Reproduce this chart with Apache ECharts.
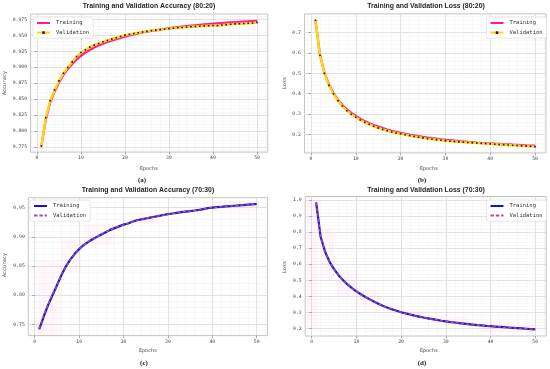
<!DOCTYPE html>
<html><head><meta charset="utf-8">
<script src="https://cdn.jsdelivr.net/npm/echarts@6/dist/echarts.min.js"></script>
<style>html,body{margin:0;padding:0;background:#fff}#c{width:550px;height:369px}</style>
</head><body><div id="c"></div>
<script>
const epochs = [1,2,3,4,5,6,7,8,9,10,11,12,13,14,15,16,17,18,19,20,21,22,23,24,25,26,27,28,29,30,31,32,33,34,35,36,37,38,39,40,41,42,43,44,45,46,47,48,49,50];

const accTrainA = [0.776,0.818,0.845,0.862,0.876,0.888,0.897,0.905,0.912,0.918,0.923,0.927,0.931,0.934,0.937,0.9395,0.9418,0.944,0.946,0.948,0.9498,0.9515,0.953,0.9545,0.9558,0.957,0.958,0.959,0.96,0.961,0.962,0.9628,0.9636,0.9644,0.9651,0.9658,0.9665,0.9671,0.9677,0.9683,0.9688,0.9693,0.9698,0.9703,0.9708,0.9712,0.9716,0.972,0.9724,0.9728];
const accValA = [0.776,0.8207,0.8474,0.8643,0.8785,0.8906,0.8994,0.9084,0.9167,0.923,0.9273,0.9315,0.9347,0.9372,0.9399,0.942,0.9441,0.9462,0.9483,0.9504,0.9515,0.9528,0.954,0.9552,0.9563,0.9573,0.9582,0.959,0.9598,0.9605,0.9612,0.9618,0.9624,0.9629,0.9634,0.9639,0.9643,0.9647,0.9651,0.9655,0.9652,0.9662,0.9666,0.9675,0.968,0.9682,0.9685,0.969,0.9693,0.9703];

const lossTrainB = [0.757,0.590,0.502,0.445,0.403,0.371,0.345,0.324,0.306,0.291,0.278,0.266,0.256,0.247,0.239,0.232,0.225,0.219,0.214,0.209,0.2045,0.2003,0.1963,0.1926,0.1892,0.186,0.183,0.1802,0.1775,0.175,0.1727,0.1705,0.1685,0.1666,0.1648,0.1632,0.1616,0.1601,0.1587,0.1574,0.1561,0.1549,0.1537,0.1525,0.1513,0.1502,0.1491,0.148,0.147,0.146];
const lossValB = [0.759,0.588,0.4997,0.441,0.399,0.366,0.340,0.317,0.2994,0.285,0.2716,0.260,0.2506,0.2408,0.2325,0.226,0.2193,0.2129,0.2081,0.204,0.1995,0.1953,0.1913,0.1876,0.1842,0.181,0.178,0.1752,0.1725,0.170,0.1682,0.1665,0.1649,0.1633,0.1618,0.1603,0.1589,0.1575,0.1562,0.155,0.1536,0.1522,0.1508,0.1494,0.1481,0.1468,0.1455,0.1442,0.143,0.1418];

const accTrainC = [0.7414,0.763,0.783,0.80,0.817,0.834,0.849,0.861,0.871,0.879,0.886,0.891,0.896,0.9,0.904,0.908,0.912,0.915,0.918,0.921,0.923,0.926,0.9285,0.930,0.9315,0.933,0.9345,0.936,0.9375,0.939,0.9401,0.9413,0.9424,0.9434,0.9443,0.9452,0.9462,0.9477,0.9492,0.9503,0.951,0.9516,0.9522,0.9528,0.9534,0.954,0.9546,0.9552,0.9558,0.9564];
const accValC = [0.7425,0.7645,0.7835,0.8015,0.8175,0.835,0.8485,0.8605,0.8715,0.8795,0.8855,0.8915,0.8965,0.9005,0.9045,0.9085,0.9115,0.9155,0.918,0.9205,0.9235,0.9255,0.928,0.9305,0.9318,0.9335,0.9342,0.9362,0.9372,0.9392,0.9398,0.9415,0.9422,0.9436,0.9441,0.9455,0.946,0.9478,0.949,0.9505,0.9508,0.9518,0.952,0.953,0.9533,0.9542,0.9545,0.9553,0.9557,0.9565];

const lossTrainD = [0.986,0.771,0.678,0.615,0.57,0.532,0.501,0.474,0.451,0.431,0.413,0.396,0.381,0.366,0.352,0.34,0.329,0.319,0.31,0.301,0.294,0.287,0.28,0.274,0.268,0.263,0.258,0.253,0.248,0.244,0.24,0.237,0.233,0.23,0.227,0.224,0.221,0.219,0.216,0.214,0.212,0.21,0.208,0.206,0.204,0.202,0.2,0.198,0.196,0.194];
const lossValD = [0.984,0.774,0.676,0.617,0.568,0.534,0.499,0.476,0.449,0.432,0.411,0.397,0.379,0.367,0.351,0.341,0.328,0.32,0.309,0.302,0.293,0.288,0.279,0.275,0.267,0.264,0.257,0.254,0.247,0.245,0.239,0.238,0.232,0.231,0.226,0.225,0.22,0.22,0.215,0.215,0.211,0.211,0.207,0.207,0.203,0.203,0.199,0.199,0.195,0.195];

const bandsC = [[0.5,6,0.732,0.86],[6,10.5,0.84,0.895],[11,18,0.885,0.922],[22.5,28,0.922,0.94],[40,50.5,0.944,0.962]];
const bandsD = [[-1,1.5,0.2,1.02],[2,5,0.52,0.82],[5.5,10,0.4,0.56],[10,15,0.33,0.44],[20,25,0.26,0.31],[27,35,0.22,0.27],[38,50,0.18,0.23]];

const xTicks = [0,10,20,30,40,50];
const yTicksA = [0.775,0.8,0.825,0.85,0.875,0.9,0.925,0.95,0.975];
const yTicksB = [0.2,0.3,0.4,0.5,0.6,0.7];
const yTicksC = [0.75,0.8,0.85,0.9,0.95];
const yTicksD = [0.2,0.3,0.4,0.5,0.6,0.7,0.8,0.9,1.0];

const titles = ['Training and Validation Accuracy (80:20)','Training and Validation Loss (80:20)','Training and Validation Accuracy (70:30)','Training and Validation Loss (70:30)'];
const yNames = ['Accuracy','Loss','Accuracy','Loss'];
const captions = ['(a)','(b)','(c)','(d)'];

const panels = [
  {left:30.6, top:14, width:237.2, height:138.1, yMin:0.7667, yMax:0.9835, yTicks:yTicksA, yMinor:0.005, dec:3,
   tr:accTrainA, va:accValA, style:'ab', bands:null, legend:{left:33, top:17},
   title:[149,6], xname:[149,169], yname:[5,83], cap:[142,180]},
  {left:304.5, top:13.9, width:241.5, height:139, yMin:0.111, yMax:0.790, yTicks:yTicksB, yMinor:0.02, dec:1,
   tr:lossTrainB, va:lossValB, style:'ab', bands:null, legend:{left:486.5, top:17},
   title:[426,6], xname:[429,169], yname:[285,83], cap:[422,180]},
  {left:28.3, top:197.7, width:239.3, height:137.9, yMin:0.7307, yMax:0.9672, yTicks:yTicksC, yMinor:0.01, dec:2,
   tr:accTrainC, va:accValC, style:'cd', bands:bandsC, legend:{left:30, top:200},
   title:[148,190], xname:[148,351], yname:[5,265], cap:[144,363]},
  {left:305.2, top:196.5, width:241, height:139.5, yMin:0.153, yMax:1.022, yTicks:yTicksD, yMinor:0.02, dec:1,
   tr:lossTrainD, va:lossValD, style:'cd', bands:bandsD, legend:{left:486.5, top:200},
   title:[426,190], xname:[429,351], yname:[285,267], cap:[422,363]}
];

const MONO = '"DejaVu Sans Mono", monospace';
const grid=[], xAxis=[], yAxis=[], series=[], legend=[], graphic=[];

function minorVals(lo, hi, step){
  const out=[]; const s=Math.ceil(lo/step);
  for(let k=s;k*step<=hi+1e-12;k++){ out.push(Math.round(k*step*1e6)/1e6); }
  return out;
}

panels.forEach((p,i)=>{
  grid.push({left:p.left, top:p.top, width:p.width, height:p.height, show:true, borderColor:'#b4b4b4', borderWidth:0.8, backgroundColor:'transparent'});
  const xMin=-1.45, xMax=52.45;
  xAxis.push({type:'value', gridIndex:i, min:xMin, max:xMax, position:'bottom',
    axisLine:{show:false},
    axisTick:{show:true, customValues:xTicks, length:2.5, lineStyle:{color:'#777', width:0.6}},
    axisLabel:{show:true, customValues:xTicks, fontSize:4.8, fontFamily:MONO, color:'#444', margin:3.5, formatter:v=>String(Math.round(v))},
    splitLine:{show:true, lineStyle:{color:'#d4d4d4', width:0.7}}});
  xAxis.push({type:'value', gridIndex:i, min:xMin, max:xMax, position:'bottom',
    axisLine:{show:false}, axisTick:{show:false, customValues:minorVals(xMin,xMax,2)}, axisLabel:{show:false},
    splitLine:{show:true, lineStyle:{color:'#e4e4e4', width:0.5, type:[1,1]}}});
  yAxis.push({type:'value', gridIndex:i, min:p.yMin, max:p.yMax,
    axisLine:{show:false},
    axisTick:{show:true, customValues:p.yTicks, length:2.5, lineStyle:{color:'#777', width:0.6}},
    axisLabel:{show:true, customValues:p.yTicks, fontSize:4.8, fontFamily:MONO, color:'#444', margin:3.5, formatter:v=>v.toFixed(p.dec)},
    splitLine:{show:true, lineStyle:{color:'#d4d4d4', width:0.7}}});
  yAxis.push({type:'value', gridIndex:i, min:p.yMin, max:p.yMax,
    axisLine:{show:false}, axisTick:{show:false, customValues:minorVals(p.yMin,p.yMax,p.yMinor)}, axisLabel:{show:false},
    splitLine:{show:true, lineStyle:{color:'#e4e4e4', width:0.5, type:[1,1]}}});

  const trName='Training#'+i, vaName='Validation#'+i;
  const trData=epochs.map((e,k)=>[e,p.tr[k]]);
  const vaData=epochs.map((e,k)=>[e,p.va[k]]);
  const trSeries={name:trName, type:'line', xAxisIndex:2*i, yAxisIndex:2*i, data:trData, showSymbol:false, symbol:'none', z:3, silent:true};
  const vaSeries={name:vaName, type:'line', xAxisIndex:2*i, yAxisIndex:2*i, data:vaData, z:4, silent:true};
  const legendData=[{name:trName, itemStyle:{opacity:0}}];
  if(p.style==='ab'){
    trSeries.lineStyle={color:'#ff1a9c', width:2.3}; trSeries.itemStyle={color:'#ff1a9c'};
    vaSeries.lineStyle={color:'#ffd614', width:2.4};
    vaSeries.itemStyle={color:'#1a1a1a'};
    vaSeries.symbol='rect'; vaSeries.symbolSize=1.6; vaSeries.showSymbol=true;
    legendData.push({name:vaName});
  } else {
    trSeries.lineStyle={color:'#1414cc', width:2.2}; trSeries.itemStyle={color:'#1414cc'};
    vaSeries.lineStyle={color:'#a4509a', width:1.4, type:[3.5,1.8]}; vaSeries.itemStyle={color:'#a4509a'};
    vaSeries.symbol='none'; vaSeries.showSymbol=false;
    legendData.push({name:vaName, itemStyle:{opacity:0}});
  }
  if(p.bands){
    trSeries.markArea={silent:true, itemStyle:{color:'rgba(255,185,215,0.11)'},
      data:p.bands.map(b=>[{xAxis:b[0], yAxis:b[2]},{xAxis:b[1], yAxis:b[3]}])};
  }
  series.push(trSeries, vaSeries);
  legend.push({data:legendData, orient:'vertical', left:p.legend.left, top:p.legend.top,
    itemWidth:13, itemHeight:3.2, itemGap:3.6, padding:[3,4,2.5,3], selectedMode:false,
    backgroundColor:'#fff', borderColor:'#d6d6d6', borderWidth:0.6, borderRadius:2,
    formatter:n=>n.split('#')[0], textStyle:{fontSize:5.5, fontFamily:MONO, color:'#333', padding:[0,0,0,1]}});

  graphic.push({type:'text', x:p.title[0], y:p.title[1], z:10, style:{text:titles[i], align:'center', verticalAlign:'middle', fill:'#262626', font:'bold 6.9px "Liberation Sans", Arial, sans-serif'}});
  graphic.push({type:'text', x:p.xname[0], y:p.xname[1], z:10, style:{text:'Epochs', align:'center', verticalAlign:'middle', fill:'#444', font:'5px '+MONO}});
  graphic.push({type:'text', x:p.yname[0], y:p.yname[1], rotation:Math.PI/2, z:10, style:{text:yNames[i], align:'center', verticalAlign:'middle', fill:'#444', font:'5px '+MONO}});
  graphic.push({type:'text', x:p.cap[0], y:p.cap[1], z:10, style:{text:captions[i], align:'center', verticalAlign:'middle', fill:'#222', font:'bold 7px "Liberation Serif", "Times New Roman", serif'}});
});

const chart = echarts.init(document.getElementById('c'), null, {renderer:'canvas'});
chart.setOption({backgroundColor:'#fff', animation:false, grid, xAxis, yAxis, series, legend, graphic});
</script></body></html>
